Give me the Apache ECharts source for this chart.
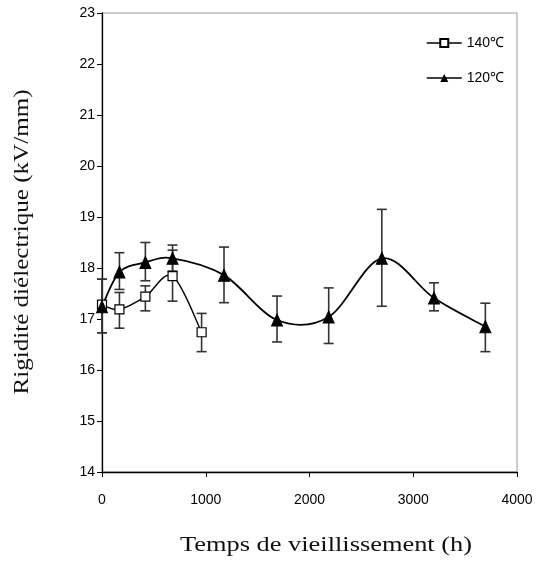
<!DOCTYPE html>
<html>
<head>
<meta charset="utf-8">
<script src="https://cdn.jsdelivr.net/npm/echarts@6/dist/echarts.min.js"></script>
<style>
html,body{margin:0;padding:0;background:#fff;}
#chart{width:542px;height:565px;}
</style>
</head>
<body>
<div id="chart"></div>
<script>
// Data
const seriesNames = ['140℃', '120℃'];

const hours140 = [0, 168, 418, 680, 960];
const val140   = [17.28, 17.19, 17.44, 17.84, 16.74];
const low140   = [16.73, 16.82, 17.16, 17.35, 16.36];
const high140  = [17.78, 17.52, 17.65, 18.35, 17.11];

const hours120 = [0, 168, 418, 680, 1176, 1687, 2185, 2697, 3200, 3695];
const val120   = [17.24, 17.92, 18.11, 18.19, 17.86, 16.98, 17.04, 18.19, 17.41, 16.85];
const low120   = [16.73, 17.58, 17.75, 17.94, 17.32, 16.55, 16.52, 17.25, 17.16, 16.36];
const high120  = [17.78, 18.30, 18.50, 18.45, 18.41, 17.45, 17.61, 19.15, 17.71, 17.31];

const xTicks = [0, 1000, 2000, 3000, 4000];
const yTicks = [14, 15, 16, 17, 18, 19, 20, 21, 22, 23];

const xTitle = 'Temps de vieillissement (h)';
const yTitle = 'Rigidité diélectrique (kV/mm)';

const pts = (xs, ys) => xs.map((x, i) => [x, ys[i]]);
const bars = (xs, lo, hi) => xs.map((x, i) => [x, lo[i], hi[i]]);

function errRender(params, api) {
  const x = api.value(0), lo = api.value(1), hi = api.value(2);
  const a = api.coord([x, lo]), b = api.coord([x, hi]);
  const hw = 5;
  const st = {stroke: '#333', lineWidth: 1.6};
  return {
    type: 'group',
    children: [
      {type: 'line', shape: {x1: a[0], y1: a[1], x2: b[0], y2: b[1]}, style: st},
      {type: 'line', shape: {x1: a[0] - hw, y1: a[1], x2: a[0] + hw, y2: a[1]}, style: st},
      {type: 'line', shape: {x1: b[0] - hw, y1: b[1], x2: b[0] + hw, y2: b[1]}, style: st}
    ]
  };
}

// Excel-like smoothed line (Catmull-Rom through the data points, in pixel space)
function smoothRender(xs, ys, width) {
  return function (params, api) {
    const i = params.dataIndex;
    if (i >= xs.length - 1) return null;
    const P = k => api.coord([xs[Math.max(0, Math.min(xs.length - 1, k))], ys[Math.max(0, Math.min(xs.length - 1, k))]]);
    const p0 = P(i - 1), p1 = P(i), p2 = P(i + 1), p3 = P(i + 2);
    const t = 1 / 6;
    return {
      type: 'bezierCurve',
      shape: {
        x1: p1[0], y1: p1[1], x2: p2[0], y2: p2[1],
        cpx1: p1[0] + (p2[0] - p0[0]) * t, cpy1: p1[1] + (p2[1] - p0[1]) * t,
        cpx2: p2[0] - (p3[0] - p1[0]) * t, cpy2: p2[1] - (p3[1] - p1[1]) * t
      },
      style: {stroke: '#000', lineWidth: width, fill: null}
    };
  };
}

const chart = echarts.init(document.getElementById('chart'));
chart.setOption({
  animation: false,
  backgroundColor: '#fff',
  grid: {left: 102, right: 25, top: 13, bottom: 93, show: true, borderColor: '#999', borderWidth: 1},
  legend: {
    data: seriesNames,
    orient: 'vertical',
    left: 421, top: 31,
    itemWidth: 35, itemHeight: 10, itemGap: 21,
    lineStyle: {color: '#000', width: 1.5, opacity: 1},
    textStyle: {fontFamily: 'Liberation Sans, Arial', fontSize: 14, color: '#000'}
  },
  graphic: [
    {type: 'text', x: 326, y: 545, scaleX: 1.2,
     style: {text: xTitle, font: '22px "Liberation Serif", "Times New Roman", serif', fill: '#111', align: 'center', verticalAlign: 'middle'}},
    {type: 'text', x: 22, y: 242, rotation: Math.PI / 2, scaleX: 1.14,
     style: {text: yTitle, font: '22px "Liberation Serif", "Times New Roman", serif', fill: '#111', align: 'center', verticalAlign: 'middle'}}
  ],
  xAxis: {
    type: 'value', min: xTicks[0], max: xTicks[xTicks.length - 1], interval: 1000,
    axisLine: {lineStyle: {color: '#000', width: 1.3}},
    axisTick: {show: true, length: 5, lineStyle: {color: '#000'}},
    axisLabel: {fontFamily: 'Liberation Sans, Arial', fontSize: 14, color: '#000', margin: 21,
                formatter: v => String(v)},
    splitLine: {show: false}
  },
  yAxis: {
    type: 'value', min: yTicks[0], max: yTicks[yTicks.length - 1], interval: 1,
    axisLine: {show: true, lineStyle: {color: '#000', width: 1.3}},
    axisTick: {show: true, length: 5, lineStyle: {color: '#000'}},
    axisLabel: {fontFamily: 'Liberation Sans, Arial', fontSize: 14, color: '#000', margin: 7},
    splitLine: {show: false}
  },
  series: [
    {type: 'custom', name: 'err140', renderItem: errRender, data: bars(hours140, low140, high140),
     encode: {x: 0, y: [1, 2]}, z: 1, silent: true},
    {type: 'custom', name: 'err120', renderItem: errRender, data: bars(hours120, low120, high120),
     encode: {x: 0, y: [1, 2]}, z: 1, silent: true},
    {type: 'custom', name: 'curve140', renderItem: smoothRender(hours140, val140, 1.4), data: pts(hours140, val140),
     encode: {x: 0, y: 1}, z: 2, silent: true},
    {type: 'custom', name: 'curve120', renderItem: smoothRender(hours120, val120, 1.8), data: pts(hours120, val120),
     encode: {x: 0, y: 1}, z: 2, silent: true},
    {type: 'line', name: seriesNames[0], data: pts(hours140, val140),
     symbol: 'rect', symbolSize: 9, showAllSymbol: true,
     lineStyle: {color: '#000', width: 0, opacity: 0},
     itemStyle: {color: '#fff', borderColor: '#000', borderWidth: 1.2},
     z: 3},
    {type: 'line', name: seriesNames[1], data: pts(hours120, val120),
     symbol: 'triangle', symbolSize: [11, 12], showAllSymbol: true,
     lineStyle: {color: '#000', width: 0, opacity: 0},
     itemStyle: {color: '#000', borderColor: '#000'},
     z: 4}
  ]
});
</script>
</body>
</html>
